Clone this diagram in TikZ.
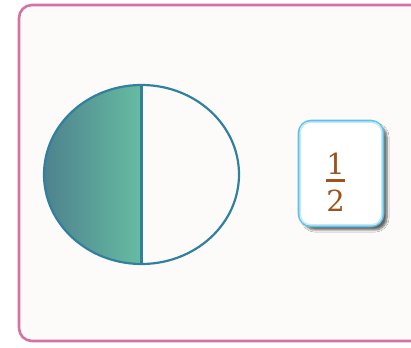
\documentclass[tikz,border=0pt]{standalone}
\usepackage{fontspec}
\setmainfont{DejaVu Serif}
\usetikzlibrary{shadows,shadows.blur}
\definecolor{framepink}{RGB}{214,112,165}
\definecolor{bgwhite}{RGB}{253,251,250}
\definecolor{tealdark}{RGB}{78,130,142}
\definecolor{teallight}{RGB}{102,188,162}
\definecolor{tealline}{RGB}{48,128,158}
\definecolor{boxblue}{RGB}{95,195,230}
\definecolor{boxglow}{RGB}{195,232,247}
\definecolor{fracbrown}{RGB}{156,84,28}
\tikzset{
  frame/.style={draw=framepink,line width=2.6pt,fill=bgwhite,rounded corners=13pt},
  fracbox/.style={draw=boxblue,line width=2.6pt,fill=white,rounded corners=12pt,
    blur shadow={shadow xshift=4pt,shadow yshift=-4pt,shadow blur steps=6,shadow opacity=60},
    minimum width=84pt,minimum height=105pt},
  digit/.style={text=fracbrown,font=\fontsize{29}{34}\selectfont,inner sep=0pt},
  disc/.style={draw=tealline,line width=2.2pt}
}
\begin{document}
\begin{tikzpicture}[x=1pt,y=1pt]
\useasboundingbox (0,0) rectangle (411,347);
% outer frame (right edge beyond picture)
\draw[frame] (19,6) rectangle (430,342);
% circle
\coordinate (c) at (141.5,172.5);
\fill[left color=tealdark,right color=teallight]
  (141.5,262) arc[start angle=90,end angle=270,x radius=97.5,y radius=89.5] -- cycle;
\draw[disc] (c) ellipse [x radius=97.5,y radius=89.5];
\coordinate (top) at (141.5,262);
\coordinate (bot) at (141.5,83);
\draw[disc,line width=2.8pt] (top) -- (bot);
% fraction box
\node[fracbox] (box) at (341,173.5) {};
\draw[boxglow,line width=1.5pt,rounded corners=10pt] ([shift={(2.5,2.5)}]box.south west) rectangle ([shift={(-2.5,-2.5)}]box.north east);
\node[digit] (one) at (335.5,183.5) {1};
\node[digit] (two) at (335.5,146.5) {2};
\draw[fracbrown,line width=3pt] (326,166) -- (345,166);
\end{tikzpicture}
\end{document}
